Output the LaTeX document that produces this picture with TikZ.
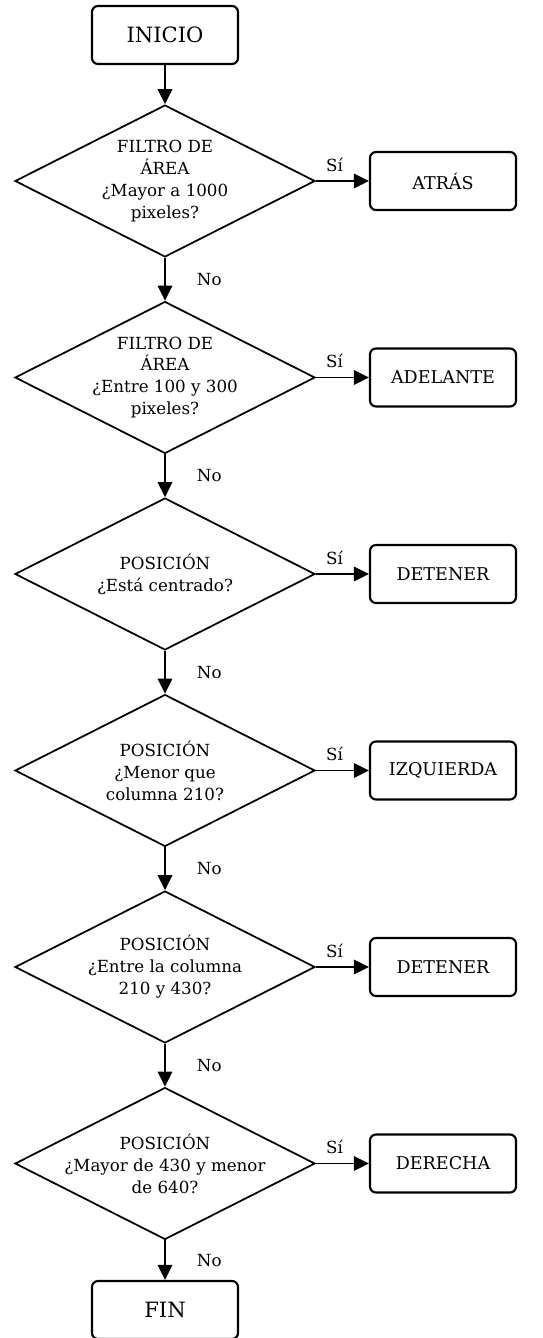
\documentclass[tikz,border=0pt]{standalone}
\usepackage{fontspec}
\setmainfont{DejaVu Serif}
\usetikzlibrary{positioning}
\usetikzlibrary{shapes.geometric}
\usetikzlibrary{arrows.meta}
\tikzset{>={Triangle[length=3mm,width=2.9mm]}}
\tikzset{term/.style={draw, line width=1.2pt, rounded corners=1.2mm, minimum width=2.92cm, minimum height=1.16cm, inner sep=0pt, font=\fontsize{12}{14}\selectfont}}
\tikzset{accion/.style={term, font=\fontsize{10}{12}\selectfont}}
\tikzset{dec/.style={draw, diamond, line width=1pt, minimum width=6cm, minimum height=3.04cm, inner sep=0pt}}
\tikzset{txt/.style={align=center, inner sep=0pt, font=\fontsize{9.5}{12.5}\selectfont}}
\tikzset{lbl/.style={inner sep=2pt, font=\fontsize{9.5}{11}\selectfont}}
\tikzset{flecha/.style={->, line width=1pt}}

\begin{document}
\begin{tikzpicture}
\useasboundingbox (0,0) rectangle (10.86,-26.76);
\begin{scope}[on grid]

\node[term] (inicio) at (3.3, -0.7) {INICIO};

\node[dec, label={[txt]center:{FILTRO DE\\ÁREA\\¿Mayor a 1000\\pixeles?}}] (d1) [below=2.92 of inicio] {};
\node[dec, label={[txt]center:{FILTRO DE\\ÁREA\\¿Entre 100 y 300\\pixeles?}}] (d2) [below=3.93 of d1] {};
\node[dec, label={[txt]center:{POSICIÓN\\¿Está centrado?}}] (d3) [below=3.93 of d2] {};
\node[dec, label={[txt]center:{POSICIÓN\\¿Menor que\\columna 210?}}] (d4) [below=3.93 of d3] {};
\node[dec, label={[txt]center:{POSICIÓN\\¿Entre la columna\\210 y 430?}}] (d5) [below=3.93 of d4] {};
\node[dec, label={[txt]center:{POSICIÓN\\¿Mayor de 430 y menor\\de 640?}}] (d6) [below=3.93 of d5] {};

\node[term] (fin) [below=2.93 of d6] {FIN};

\node[accion] (atras) [right=5.56 of d1] {ATRÁS};
\node[accion] (adelante) [right=5.56 of d2] {ADELANTE};
\node[accion] (detener) [right=5.56 of d3] {DETENER};
\node[accion] (izquierda) [right=5.56 of d4] {IZQUIERDA};
\node[accion] (detener2) [right=5.56 of d5] {DETENER};
\node[accion] (derecha) [right=5.56 of d6] {DERECHA};

\draw[flecha] (inicio) -- (d1);
\draw[flecha] (d1) -- node[lbl, right, xshift=0.55cm] {No} (d2);
\draw[flecha] (d2) -- node[lbl, right, xshift=0.55cm] {No} (d3);
\draw[flecha] (d3) -- node[lbl, right, xshift=0.55cm] {No} (d4);
\draw[flecha] (d4) -- node[lbl, right, xshift=0.55cm] {No} (d5);
\draw[flecha] (d5) -- node[lbl, right, xshift=0.55cm] {No} (d6);
\draw[flecha] (d6) -- node[lbl, right, xshift=0.55cm] {No} (fin);

\draw[flecha] (d1) -- node[lbl, above, pos=0.35, yshift=3pt] {Sí} (atras);
\draw[flecha] (d2) -- node[lbl, above, pos=0.35, yshift=3pt] {Sí} (adelante);
\draw[flecha] (d3) -- node[lbl, above, pos=0.35, yshift=3pt] {Sí} (detener);
\draw[flecha] (d4) -- node[lbl, above, pos=0.35, yshift=3pt] {Sí} (izquierda);
\draw[flecha] (d5) -- node[lbl, above, pos=0.35, yshift=3pt] {Sí} (detener2);
\draw[flecha] (d6) -- node[lbl, above, pos=0.35, yshift=3pt] {Sí} (derecha);

\end{scope}
\end{tikzpicture}
\end{document}
